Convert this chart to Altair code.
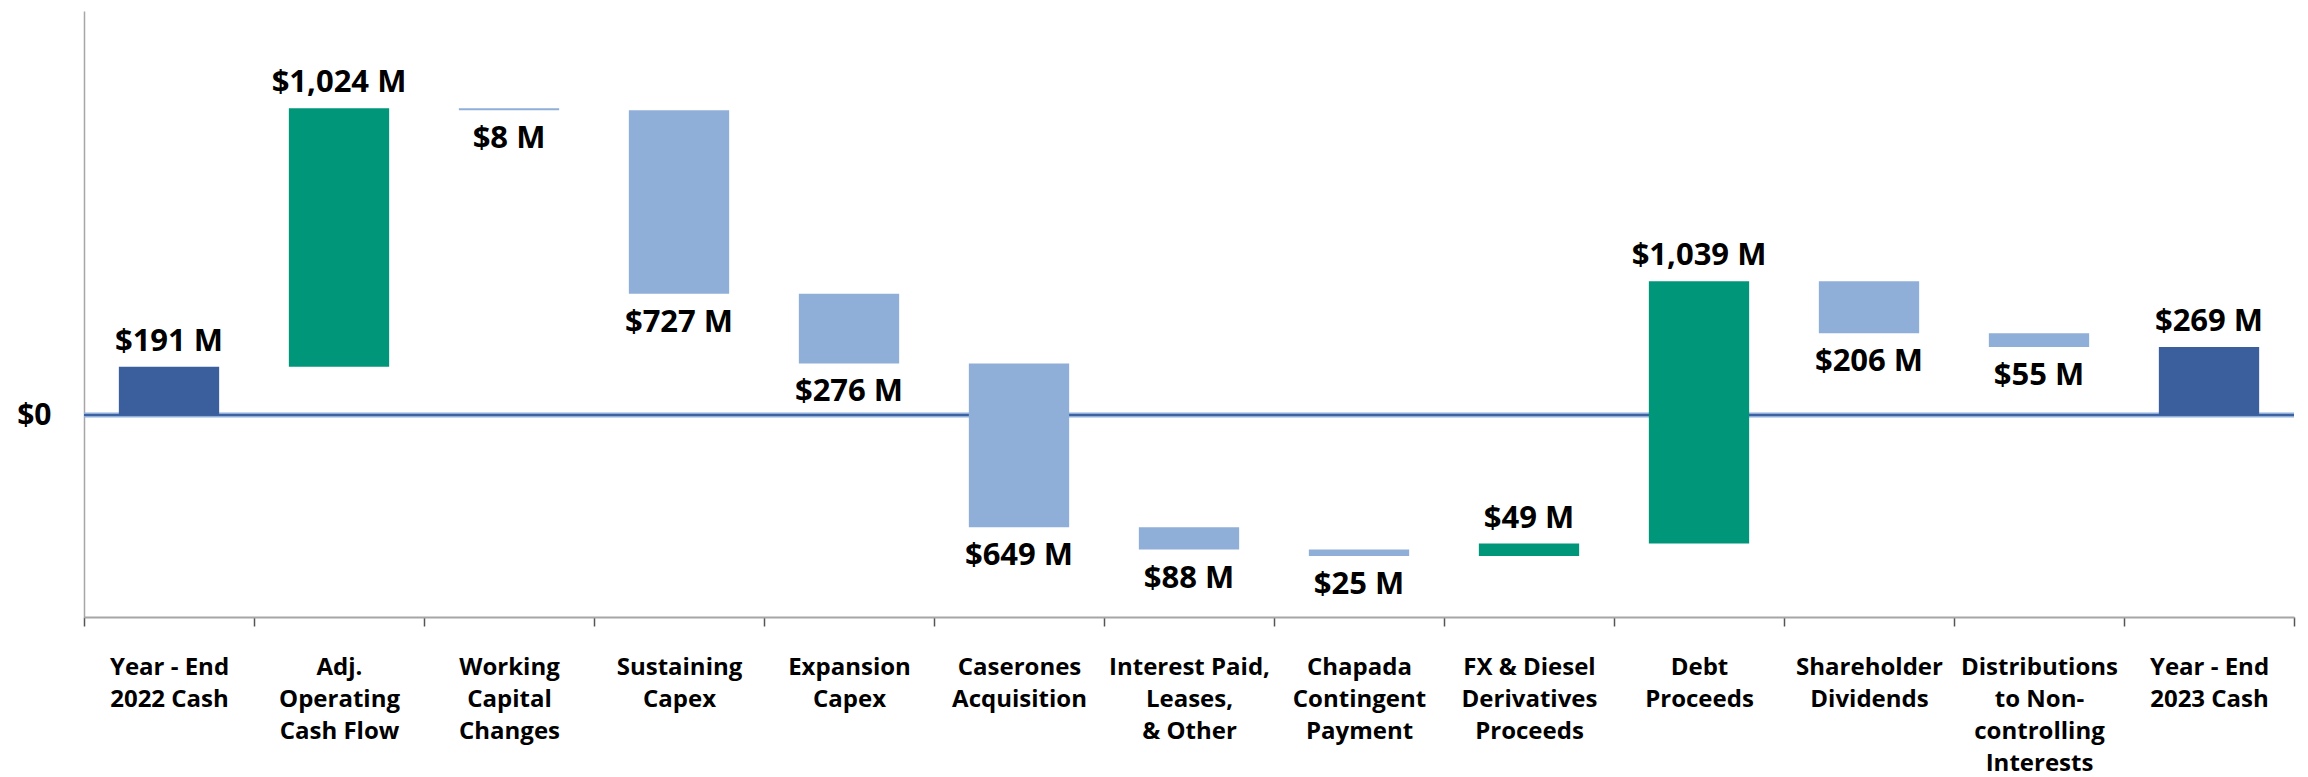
import altair as alt
import pandas as pd

categories = [
    "Year - End|2022 Cash",
    "Adj.|Operating|Cash Flow",
    "Working|Capital|Changes",
    "Sustaining|Capex",
    "Expansion|Capex",
    "Caserones|Acquisition",
    "Interest Paid,|Leases,|& Other",
    "Chapada|Contingent|Payment",
    "FX & Diesel|Derivatives|Proceeds",
    "Debt|Proceeds",
    "Shareholder|Dividends",
    "Distributions|to Non-|controlling|Interests",
    "Year - End|2023 Cash",
]
amounts = [191, 1024, -8, -727, -276, -649, -88, -25, 49, 1039, -206, -55, 269]
kinds = ["total", "increase", "decrease", "decrease", "decrease", "decrease",
         "decrease", "decrease", "increase", "increase", "decrease", "decrease", "total"]

rows = []
running = 0
for i, (c, a, k) in enumerate(zip(categories, amounts, kinds)):
    if k == "total":
        start, end = 0, a
        running = a
    else:
        start = running
        end = running + a
        running = end
    lo, hi = min(start, end), max(start, end)
    above = k != "decrease"
    rows.append({
        "order": i, "cat": c, "kind": k, "lo": lo, "hi": hi,
        "label": f"${abs(a):,} M",
        "ly": hi if above else lo,
        "pos": "above" if above else "below",
    })
df = pd.DataFrame(rows)

FONT = "Open Sans"

x_scale = alt.Scale(paddingInner=0, paddingOuter=0)
x_enc = alt.X(
    "cat:N", sort=categories, scale=x_scale,
    axis=alt.Axis(
        title=None, labelExpr="split(datum.label, '|')", labelAngle=0,
        labelFont=FONT, labelFontSize=24, labelFontWeight="bold", labelColor="#000000",
        labelLineHeight=32, labelPadding=29, labelBaseline="top",
        tickBand="extent", tickSize=9, tickColor="#555555", tickWidth=1.5,
        domainColor="#a6a6a6", domainWidth=2, grid=False, labelLimit=400,
    ),
)
y_scale = alt.Scale(domain=[-800, 1600], nice=False, zero=False)

base = alt.Chart(df)

zero1 = alt.Chart(pd.DataFrame({"z": [0]})).mark_rule(color="#8faed8", strokeWidth=5).encode(
    y=alt.Y("z:Q", scale=y_scale)
)
zero2 = alt.Chart(pd.DataFrame({"z": [0]})).mark_rule(color="#3d62a4", strokeWidth=2).encode(
    y=alt.Y("z:Q", scale=y_scale)
)

bars = base.mark_bar(width=alt.RelativeBandSize(0.59)).encode(
    x=x_enc,
    y=alt.Y("lo:Q", scale=y_scale, axis=alt.Axis(
        title=None, values=[0], labelExpr="'$0'", ticks=False, grid=False,
        labelFont=FONT, labelFontSize=30, labelFontWeight="bold", labelColor="#000000",
        labelPadding=33, domainColor="#a6a6a6", domainWidth=1.5,
    )),
    y2="hi:Q",
    color=alt.Color("kind:N", legend=None, scale=alt.Scale(
        domain=["total", "increase", "decrease"],
        range=["#3a5f9c", "#00967a", "#8faed8"],
    )),
)

text_above = base.transform_filter("datum.pos == 'above'").mark_text(
    font=FONT, fontSize=31, fontWeight="bold", color="#000000",
    baseline="alphabetic", dy=-16,
).encode(x=alt.X("cat:N", sort=categories, scale=x_scale),
         y=alt.Y("ly:Q", scale=y_scale), text="label:N")

text_below = base.transform_filter("datum.pos == 'below'").mark_text(
    font=FONT, fontSize=31, fontWeight="bold", color="#000000",
    baseline="top", dy=14,
).encode(x=alt.X("cat:N", sort=categories, scale=x_scale),
         y=alt.Y("ly:Q", scale=y_scale), text="label:N")

chart = alt.layer(zero1, zero2, bars, text_above, text_below).properties(
    width=2210, height=606,
    autosize=alt.AutoSizeParams(type="none"),
    padding={"left": 76, "top": 3, "right": 6, "bottom": 160},
).configure(font=FONT, view=alt.ViewConfig(stroke=None))

chart.save("out.html", embed_options={"renderer": "svg", "actions": False})
